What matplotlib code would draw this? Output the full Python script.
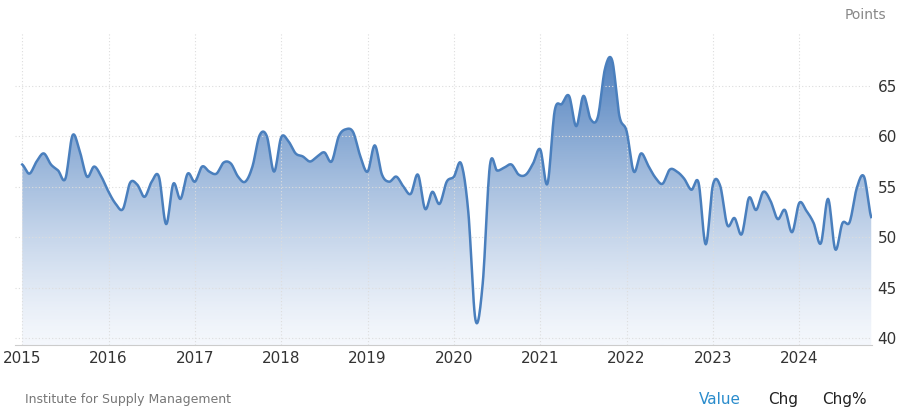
import numpy as np
import matplotlib
matplotlib.use("Agg")
import matplotlib.pyplot as plt
from matplotlib.colors import LinearSegmentedColormap

# monthly values, Jan 2015 .. Nov 2024
values = [57.2, 56.3, 57.5, 58.3, 57.2, 56.6, 55.8, 60.1, 58.5, 56.0, 57.0, 56.0,
          54.5, 53.3, 52.8, 55.4, 55.2, 54.0, 55.5, 56.0, 51.3, 55.3, 53.8, 56.3,
          55.5, 57.0, 56.5, 56.3, 57.4, 57.3, 56.0, 55.5, 57.0, 60.1, 60.0, 56.5,
          59.9, 59.5, 58.3, 58.0, 57.5, 58.0, 58.4, 57.5, 60.0, 60.7, 60.4, 58.0,
          56.5, 59.1, 56.2, 55.5, 56.0, 55.0, 54.3, 56.2, 52.8, 54.5, 53.3, 55.5,
          56.0, 57.3, 52.5, 41.8, 45.4, 57.1, 56.6, 56.9, 57.2, 56.2, 56.2, 57.3,
          58.7, 55.3, 62.5, 63.2, 64.0, 61.0, 64.0, 61.7, 61.9, 66.7, 67.5, 62.0,
          60.5, 56.5, 58.3, 57.1, 55.9, 55.3, 56.7, 56.5, 55.8, 54.7, 55.4, 49.3,
          55.2, 55.1, 51.2, 51.9, 50.3, 53.9, 52.7, 54.5, 53.6, 51.8, 52.7, 50.5,
          53.4, 52.6, 51.4, 49.4, 53.8, 48.8, 51.4, 51.5, 54.9, 56.0, 52.0]
years = list(range(2015, 2025))
yticks = [40, 45, 50, 55, 60, 65]

t = 2015 + np.arange(len(values)) / 12.0
v = np.array(values)

# catmull-rom smoothing for drawing
p = np.concatenate([[v[0]], v, [v[-1]]])
xs, ys = [], []
for i in range(len(v) - 1):
    s = np.linspace(0, 1, 12, endpoint=False)
    p0, p1, p2, p3 = p[i], p[i + 1], p[i + 2], p[i + 3]
    ys.append(0.5 * (2 * p1 + (-p0 + p2) * s + (2 * p0 - 5 * p1 + 4 * p2 - p3) * s ** 2
                     + (-p0 + 3 * p1 - 3 * p2 + p3) * s ** 3))
    xs.append(t[i] + s / 12.0)
xs = np.concatenate(xs + [[t[-1]]])
ys = np.concatenate(ys + [[v[-1]]])

fig = plt.figure(figsize=(9, 4.16), dpi=100)
ax = fig.add_axes([0.017, 0.17, 0.952, 0.75])
ymin, ymax = 39.3, 70.2
xmin, xmax = 2014.92, t[-1] + 0.01

cmap = LinearSegmentedColormap.from_list("g", ["#f4f7fc", "#4f80be"])
grad = np.linspace(0, 1, 256).reshape(-1, 1) ** 1.3
im = ax.imshow(grad, extent=[xmin, xmax, ymin, 68], origin="lower", aspect="auto",
               cmap=cmap, zorder=1)
poly = ax.fill_between(xs, ys, ymin, color="none")
im.set_clip_path(poly.get_paths()[0], transform=ax.transData)
ax.plot(xs, ys, color="#4a7fbd", lw=1.8, zorder=3)

ax.set_xlim(xmin, xmax)
ax.set_ylim(ymin, ymax)
ax.set_xticks(years)
ax.set_xticklabels([str(y) for y in years], fontsize=11, color="#333333")
ax.set_yticks(yticks)
ax.set_yticklabels([str(y) for y in yticks], fontsize=11, color="#333333")
ax.yaxis.tick_right()
ax.tick_params(length=0, pad=4)
ax.grid(True, color="#dddddd", ls=(0, (1, 2)), lw=0.8, zorder=0)
for s in ["top", "left", "right"]:
    ax.spines[s].set_visible(False)
ax.spines["bottom"].set_color("#cccccc")

fig.text(0.985, 0.965, "Points", ha="right", va="center", fontsize=10, color="#888888")
fig.text(0.028, 0.04, "Institute for Supply Management", fontsize=9, color="#777777", va="center")
fig.text(0.80, 0.04, "Value", fontsize=11, color="#2a8ccc", ha="center", va="center")
fig.text(0.87, 0.04, "Chg", fontsize=11, color="#222222", ha="center", va="center")
fig.text(0.938, 0.04, "Chg%", fontsize=11, color="#222222", ha="center", va="center")

fig.savefig("out.png", dpi=100)
